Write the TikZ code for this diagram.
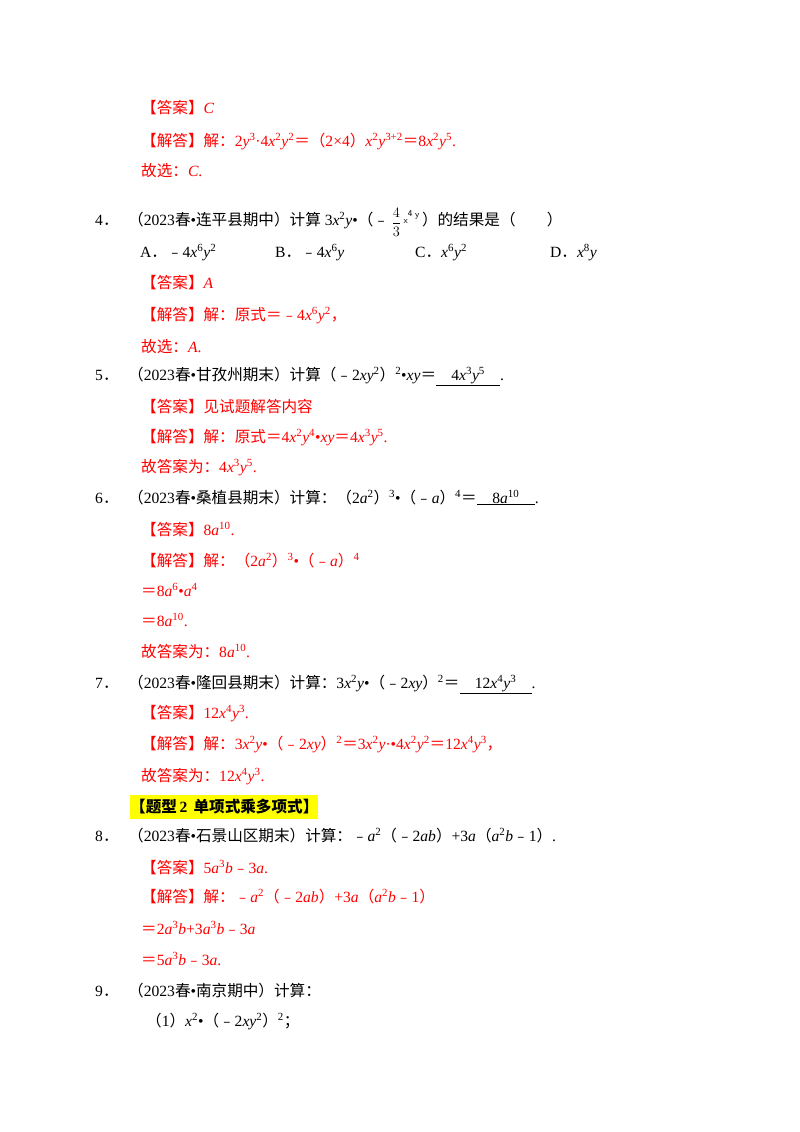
\documentclass[tikz,border=0pt]{standalone}
\usepackage{fontspec}
\setmainfont{Liberation Serif}
\newfontfamily\cjk{Noto Sans CJK SC}
\newcommand\zh[1]{{\cjk #1}}
\newcommand\mi[1]{\textit{#1}}
\newcommand\spx[1]{\textsuperscript{#1}}
\newcommand\mn{\zh{﹣}}
\newcommand\blank[2]{\underline{\makebox[#1][c]{#2}}}
\definecolor{ans}{RGB}{255,0,0}
\definecolor{hl}{RGB}{255,255,0}
\begin{document}
\begin{tikzpicture}[x=1pt,y=-1pt,
  every node/.style={anchor=base west,inner sep=0pt,font=\fontsize{15.6}{18}\selectfont},
  red/.style={text=ans}]
\useasboundingbox (0,0) rectangle (800,1132);
\fill[hl] (130,795) rectangle (318,819);
% block 3 answer
\node[red] (l1) at (141,113) {\zh{【答案】}\mi{C}};
\node[red] (l2) at (141,146) {\zh{【解答】解：}2\mi{y}\spx{3}·4\mi{x}\spx{2}\mi{y}\spx{2}\zh{＝（}2×4\zh{）}\mi{x}\spx{2}\mi{y}\spx{3+2}\zh{＝}8\mi{x}\spx{2}\mi{y}\spx{5}.};
\node[red] (l3) at (141,176) {\zh{故选：}\mi{C}.};
% q4
\node (n4) at (95,225) {4\zh{．}};
\node (q4) at (128,225) {\zh{（}2023\zh{春}•\zh{连平县期中）计算} 3\mi{x}\spx{2}\mi{y}•\zh{（}\mn\,{\sffamily\raisebox{-2pt}{$\displaystyle\frac{4}{3}$}\,\raisebox{2pt}{\small x}\raisebox{9pt}{\small 4}\,\raisebox{8pt}{\small y}}\,\zh{）的结果是（　　）}};
\node (oa) at (140,257) {A\zh{．}\mn4\mi{x}\spx{6}\mi{y}\spx{2}};
\node (ob) at (275,257) {B\zh{．}\mn4\mi{x}\spx{6}\mi{y}};
\node (oc) at (415,257) {C\zh{．}\mi{x}\spx{6}\mi{y}\spx{2}};
\node (od) at (550,257) {D\zh{．}\mi{x}\spx{8}\mi{y}};
\node[red] (a4) at (141,288) {\zh{【答案】}\mi{A}};
\node[red] (s4) at (141,320) {\zh{【解答】解：原式＝}\mn4\mi{x}\spx{6}\mi{y}\spx{2}\zh{，}};
\node[red] (g4) at (141,352) {\zh{故选：}\mi{A}.};
% q5
\node (n5) at (95,380) {5\zh{．}};
\node (q5) at (128,380) {\zh{（}2023\zh{春}•\zh{甘孜州期末）计算（}\mn2\mi{xy}\spx{2}\zh{）}\spx{2}•\mi{xy}\zh{＝}\blank{64pt}{4\mi{x}\spx{3}\mi{y}\spx{5}}.};
\node[red] (a5) at (141,412) {\zh{【答案】见试题解答内容}};
\node[red] (s5) at (141,442) {\zh{【解答】解：原式＝}4\mi{x}\spx{2}\mi{y}\spx{4}•\mi{xy}\zh{＝}4\mi{x}\spx{3}\mi{y}\spx{5}.};
\node[red] (g5) at (141,472) {\zh{故答案为：}4\mi{x}\spx{3}\mi{y}\spx{5}.};
% q6
\node (n6) at (95,503) {6\zh{．}};
\node (q6) at (128,503) {\zh{（}2023\zh{春}•\zh{桑植县期末）计算：（}2\mi{a}\spx{2}\zh{）}\spx{3}•\zh{（}\mn\mi{a}\zh{）}\spx{4}\zh{＝}\blank{58pt}{8\mi{a}\spx{10}}.};
\node[red] (a6) at (141,535) {\zh{【答案】}8\mi{a}\spx{10}.};
\node[red] (s6) at (141,566) {\zh{【解答】解：（}2\mi{a}\spx{2}\zh{）}\spx{3}•\zh{（}\mn\mi{a}\zh{）}\spx{4}};
\node[red] (e61) at (141,596) {\zh{＝}8\mi{a}\spx{6}•\mi{a}\spx{4}};
\node[red] (e62) at (141,626) {\zh{＝}8\mi{a}\spx{10}.};
\node[red] (g6) at (141,657) {\zh{故答案为：}8\mi{a}\spx{10}.};
% q7
\node (n7) at (95,688) {7\zh{．}};
\node (q7) at (128,688) {\zh{（}2023\zh{春}•\zh{隆回县期末）计算：}3\mi{x}\spx{2}\mi{y}•\zh{（}\mn2\mi{xy}\zh{）}\spx{2}\zh{＝}\blank{72pt}{12\mi{x}\spx{4}\mi{y}\spx{3}}.};
\node[red] (a7) at (141,718) {\zh{【答案】}12\mi{x}\spx{4}\mi{y}\spx{3}.};
\node[red] (s7) at (141,749) {\zh{【解答】解：}3\mi{x}\spx{2}\mi{y}•\zh{（}\mn2\mi{xy}\zh{）}\spx{2}\zh{＝}3\mi{x}\spx{2}\mi{y}·•4\mi{x}\spx{2}\mi{y}\spx{2}\zh{＝}12\mi{x}\spx{4}\mi{y}\spx{3}\zh{，}};
\node[red] (g7) at (141,781) {\zh{故答案为：}12\mi{x}\spx{4}\mi{y}\spx{3}.};
% heading
\node (h2) at (130,812) {\bfseries\zh{【题型}\,2\,\zh{ 单项式乘多项式】}};
% q8
\node (n8) at (95,841) {8\zh{．}};
\node (q8) at (128,841) {\zh{（}2023\zh{春}•\zh{石景山区期末）计算：}\mn\mi{a}\spx{2}\zh{（}\mn2\mi{ab}\zh{）}+3\mi{a}\zh{（}\mi{a}\spx{2}\mi{b}\mn1\zh{）}.};
\node[red] (a8) at (141,873) {\zh{【答案】}5\mi{a}\spx{3}\mi{b}\mn3\mi{a}.};
\node[red] (s8) at (141,902) {\zh{【解答】解：}\mn\mi{a}\spx{2}\zh{（}\mn2\mi{ab}\zh{）}+3\mi{a}\zh{（}\mi{a}\spx{2}\mi{b}\mn1\zh{）}};
\node[red] (e81) at (141,934) {\zh{＝}2\mi{a}\spx{3}\mi{b}+3\mi{a}\spx{3}\mi{b}\mn3\mi{a}};
\node[red] (e82) at (141,965) {\zh{＝}5\mi{a}\spx{3}\mi{b}\mn3\mi{a}.};
% q9
\node (n9) at (95,996) {9\zh{．}};
\node (q9) at (128,996) {\zh{（}2023\zh{春}•\zh{南京期中）计算：}};
\node (q91) at (146,1026) {\zh{（}1\zh{）}\mi{x}\spx{2}•\zh{（}\mn2\mi{xy}\spx{2}\zh{）}\spx{2}\zh{；}};
\end{tikzpicture}
\end{document}
